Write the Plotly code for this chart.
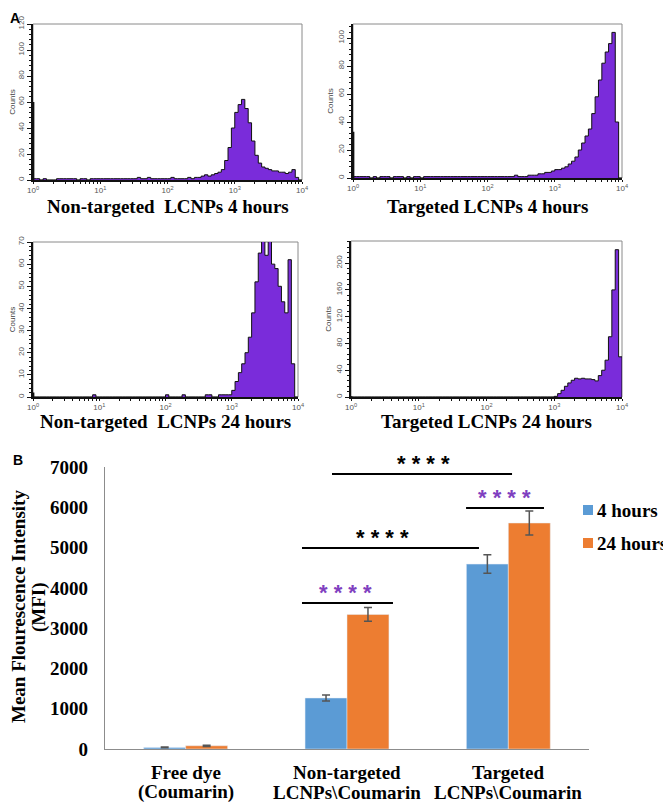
import numpy as np
import plotly.graph_objects as go

# ---------------- Panel A: flow cytometry histograms ----------------
decade_step = 0.05  # channel width (decades), 80 channels over 10^0..10^4

nt_4h = [1, 1, 0, 1, 0, 0, 0, 1, 1, 1,
         1, 1, 1, 0, 1, 1, 0, 1, 1, 1,
         1, 1, 1, 1, 1, 1, 1, 1, 1, 1,
         1, 2, 1, 1, 2, 1, 1, 1, 1, 1,
         1, 2, 1, 1, 1, 1, 2, 1, 2, 2,
         3, 4, 3, 4, 5, 6, 8, 15, 25, 40,
         52, 58, 62, 55, 44, 30, 19, 13, 10, 9,
         8, 7, 7, 6, 6, 5, 6, 8, 2, 0]

t_4h = [1, 1, 1, 1, 1, 0, 1, 0, 1, 1,
        1, 0, 1, 1, 1, 0, 1, 0, 1, 1,
        0, 1, 1, 1, 1, 1, 1, 1, 1, 1,
        1, 1, 1, 1, 1, 1, 1, 1, 1, 1,
        1, 1, 1, 1, 1, 1, 1, 1, 2, 1,
        1, 1, 2, 2, 2, 3, 3, 4, 4, 5,
        6, 6, 7, 8, 10, 12, 15, 20, 25, 30,
        35, 46, 58, 70, 82, 90, 96, 104, 40, 0]

nt_24h = [0, 0, 0, 0, 0, 0, 0, 0, 0, 0,
          0, 0, 0, 0, 0, 0, 0, 0, 1, 0,
          0, 0, 0, 0, 0, 0, 0, 0, 0, 0,
          0, 0, 0, 0, 0, 0, 0, 0, 0, 0,
          1, 0, 0, 0, 0, 1, 0, 0, 0, 0,
          0, 0, 1, 1, 0, 0, 1, 1, 1, 1,
          3, 7, 11, 15, 20, 27, 38, 52, 65, 71,
          64, 72, 60, 58, 50, 43, 38, 62, 15, 0]

t_24h = [0] * 60 + [1, 5, 10, 16, 21, 25, 28, 27, 28, 27,
                    27, 26, 24, 32, 40, 55, 90, 160, 220, 60]

first_channel = [60, 33, 2, 1]

hist_counts = [nt_4h, t_4h, nt_24h, t_24h]
hist_titles = ["Non-targeted  LCNPs 4 hours", "Targeted LCNPs 4 hours",
               "Non-targeted  LCNPs 24 hours", "Targeted LCNPs 24 hours"]
hist_ymax = [120, 110, 70, 233]
hist_ystep = [20, 20, 10, 40]
decade_ticks = [1, 10, 100, 1000, 10000]
decade_labels = ["10<sup>0</sup>", "10<sup>1</sup>", "10<sup>2</sup>", "10<sup>3</sup>", "10<sup>4</sup>"]

# ---------------- Panel B: bar chart ----------------
groups = ["Free dye", "Non-targeted", "Targeted"]
group_lines = [["Free dye", "(Coumarin)"],
               ["Non-targeted", "LCNPs\\Coumarin"],
               ["Targeted", "LCNPs\\Coumarin"]]
mfi_4h = [40, 1266, 4590]
mfi_24h = [80, 3340, 5610]
err_4h = [12, 75, 230]
err_24h = [15, 170, 300]
series_names = ["4 hours", "24 hours"]

W, H = 671, 804
OFF = 8  # page body margin in the browser
PURPLE_FILL = "#7A2CDA"
SIG_PURPLE = "#7F40C0"
BLUE = "#5B9BD5"
ORANGE = "#ED7D31"
SERIF = "Liberation Serif, Times New Roman, serif"
NARROW = "Liberation Sans Narrow, Arial Narrow, Liberation Sans, sans-serif"
SANS = "Liberation Sans, Arial, sans-serif"


def px_x(p):
    return (p - OFF) / W


def px_y(p):
    return 1 - (p - OFF) / H


# panel boxes in window pixels: (left, right, top, bottom)
boxes = [(33, 302, 24, 180), (353, 622, 24, 178),
         (33, 298, 242, 397), (351, 622, 241, 397)]
title_y = [207, 207, 421, 421]

fig = go.Figure()
edges = 10 ** (np.arange(81) * decade_step)
minor_x = [m * 10 ** k for k in range(4) for m in range(2, 10)]

for i, counts in enumerate(hist_counts):
    ax = "" if i == 0 else str(i + 1)
    yvals = list(counts) + [0]
    fig.add_trace(go.Scatter(
        x=edges, y=yvals, mode="lines",
        line=dict(shape="hv", color="#111111", width=1),
        fill="tozeroy", fillcolor=PURPLE_FILL,
        xaxis="x" + ax, yaxis="y" + ax, showlegend=False, hoverinfo="skip"))
    fig.add_trace(go.Scatter(
        x=[1.004, 1.004], y=[0, first_channel[i]], mode="lines",
        line=dict(color="#111111", width=2.5),
        xaxis="x" + ax, yaxis="y" + ax, showlegend=False, hoverinfo="skip"))

    l, r, t, b = boxes[i]
    ystep = hist_ystep[i]
    yt = list(range(0, int(hist_ymax[i]) + 1, ystep))
    fig.update_layout(**{
        "xaxis" + ax: dict(
            type="log", range=[0, 4], domain=[px_x(l), px_x(r)],
            anchor="y" + ax, tickvals=decade_ticks, ticktext=decade_labels,
            ticks="outside", ticklen=2, tickwidth=1, tickcolor="#111",
            showline=True, linecolor="#111", linewidth=1.5,
            showgrid=False, zeroline=False, automargin=False,
            tickfont=dict(family=NARROW, size=8, color="#555"),
            minor=dict(tickvals=minor_x, ticks="outside", ticklen=2,
                       tickcolor="#111", showgrid=False),
            fixedrange=True),
        "yaxis" + ax: dict(
            range=[0, hist_ymax[i]], domain=[px_y(b), px_y(t)],
            anchor="x" + ax, tickvals=yt, ticktext=[str(v) for v in yt],
            tickangle=-90, ticks="outside", ticklen=4, tickwidth=1.2,
            tickcolor="#111", showline=True, linecolor="#111", linewidth=2,
            showgrid=False, zeroline=False, automargin=False,
            tickfont=dict(family=NARROW, size=8, color="#555"),
            minor=dict(dtick=ystep / 5, ticks="outside", ticklen=2,
                       tickcolor="#111", showgrid=False),
            title=dict(text="Counts", font=dict(family=NARROW, size=8, color="#444"),
                       standoff=2),
            fixedrange=True),
    })
    fig.add_shape(type="rect", xref="x%s domain" % ax, yref="y%s domain" % ax,
                  x0=0, x1=1, y0=0, y1=1, line=dict(color="#8a8a8a", width=1),
                  layer="below")
    fig.add_annotation(x=px_x((l + r) / 2), y=px_y(title_y[i]), xref="paper", yref="paper",
                       text=hist_titles[i], showarrow=False, xanchor="center", yanchor="middle",
                       font=dict(family=SERIF, size=19, color="black", weight="bold"))

# ---------------- bar chart ----------------
colors = [BLUE, ORANGE]
for name, vals, errs, c in zip(series_names, [mfi_4h, mfi_24h], [err_4h, err_24h], colors):
    fig.add_trace(go.Bar(
        x=groups, y=vals, name=name, marker=dict(color=c),
        error_y=dict(type="data", array=errs, color="#555555", thickness=1.5, width=4),
        xaxis="x5", yaxis="y5", showlegend=False))

fig.update_layout(
    xaxis5=dict(domain=[px_x(105), px_x(589)], anchor="y5", range=[-0.5, 2.5],
                showline=True, linecolor="#8c8c8c", linewidth=1.2, automargin=False,
                showticklabels=False, ticks="", showgrid=False, fixedrange=True),
    yaxis5=dict(domain=[px_y(749), px_y(467)], anchor="x5", range=[0, 7000],
                dtick=1000, showline=True, linecolor="#8c8c8c", linewidth=1.2,
                ticks="", showgrid=False, zeroline=False, ticklabelstandoff=12,
                automargin=False,
                tickfont=dict(family=SERIF, size=19, color="black", weight="bold"),
                fixedrange=True),
    barmode="group", bargap=0.48, bargroupgap=0,
)

for g, lines in zip(groups, group_lines):
    for j, txt in enumerate(lines):
        fig.add_annotation(x=g, y=px_y(772 + 20 * j), xref="x5", yref="paper",
                           text=txt, showarrow=False, xanchor="center", yanchor="middle",
                           font=dict(family=SERIF, size=19, color="black", weight="bold"))

# y-axis title (two lines)
for txt, xp in [("Mean Flourescence Intensity", 18), ("(MFI)", 39)]:
    fig.add_annotation(x=px_x(xp), y=px_y(607), xref="paper", yref="paper",
                       text=txt, showarrow=False, textangle=-90,
                       xanchor="center", yanchor="middle",
                       font=dict(family=SERIF, size=19, color="black", weight="bold"))

# significance brackets
brackets = [
    dict(x0=0.907, x1=2.023, y=6826, lx=1.477, color="black"),
    dict(x0=1.738, x1=2.221, y=5982, lx=1.979, color=SIG_PURPLE),
    dict(x0=0.721, x1=1.818, y=4989, lx=1.223, color="black"),
    dict(x0=0.721, x1=1.285, y=3624, lx=0.988, color=SIG_PURPLE),
]
for bk in brackets:
    fig.add_shape(type="line", xref="x5", yref="y5", x0=bk["x0"], x1=bk["x1"],
                  y0=bk["y"], y1=bk["y"], line=dict(color="black", width=2))
    fig.add_annotation(x=bk["lx"], y=bk["y"], xref="x5", yref="y5", yshift=-4,
                       text="* * * *", showarrow=False, xanchor="center", yanchor="bottom",
                       font=dict(family=SANS, size=22, color=bk["color"], weight="bold"))

# legend (manual, tight swatches)
for j, (name, c) in enumerate(zip(series_names, colors)):
    cy = 510 + 33 * j
    fig.add_shape(type="rect", xref="paper", yref="paper",
                  x0=px_x(583), x1=px_x(593), y0=px_y(cy + 5), y1=px_y(cy - 5),
                  fillcolor=c, line=dict(width=0))
    fig.add_annotation(x=px_x(595), y=px_y(cy), xref="paper", yref="paper",
                       text=name, showarrow=False, xanchor="left", yanchor="middle",
                       font=dict(family=SERIF, size=19, color="black", weight="bold"))

# panel letters
fig.add_annotation(x=0, y=1, xref="paper", yref="paper", text="A",
                   showarrow=False, xanchor="left", yanchor="top",
                   font=dict(family=SANS, size=14, color="black", weight="bold"))
fig.add_annotation(x=px_x(18), y=px_y(460), xref="paper", yref="paper", text="B",
                   showarrow=False, xanchor="center", yanchor="middle",
                   font=dict(family=SANS, size=14, color="black", weight="bold"))

fig.update_layout(
    width=W, height=H, margin=dict(l=0, r=0, t=0, b=0),
    paper_bgcolor="white", plot_bgcolor="white",
    showlegend=False,
)

fig.write_html("out.html")
